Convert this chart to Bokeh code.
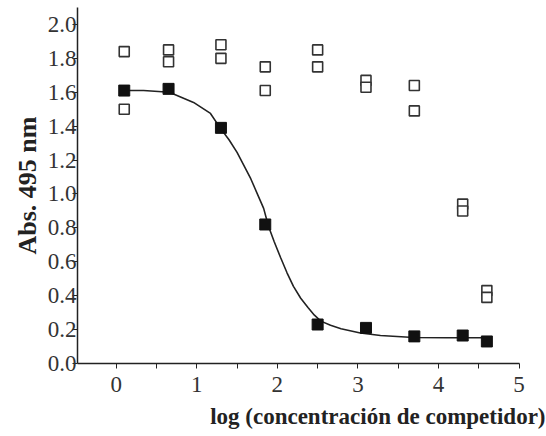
from bokeh.plotting import figure
from bokeh.models import FixedTicker, Range1d, Title, PrintfTickFormatter
from bokeh.embed import file_html
from bokeh.resources import INLINE

# Filled squares (fitted series)
x_filled = [0.1, 0.65, 1.3, 1.85, 2.5, 3.1, 3.7, 4.3, 4.6]
y_filled = [1.61, 1.62, 1.39, 0.82, 0.23, 0.21, 0.16, 0.165, 0.13]

# Open squares (two replicates per concentration)
x_open = [0.1, 0.1, 0.65, 0.65, 1.3, 1.3, 1.85, 1.85, 2.5, 2.5,
          3.1, 3.1, 3.7, 3.7, 4.3, 4.3, 4.6, 4.6]
y_open = [1.84, 1.50, 1.85, 1.78, 1.88, 1.80, 1.75, 1.61, 1.85, 1.75,
          1.67, 1.63, 1.64, 1.49, 0.94, 0.90, 0.43, 0.39]

# Fitted curve
x_curve = [0.10, 0.34, 0.66, 0.96, 1.17, 1.29, 1.40, 1.50, 1.67, 1.83, 1.89,
           1.96, 2.04, 2.12, 2.20, 2.29, 2.38, 2.46, 2.54, 2.66, 2.79, 3.03,
           3.28, 3.69, 4.10, 4.61]
y_curve = [1.61, 1.61, 1.60, 1.54, 1.475, 1.39, 1.32, 1.245, 1.09, 0.915, 0.81,
           0.72, 0.625, 0.535, 0.455, 0.385, 0.33, 0.285, 0.25, 0.225, 0.205, 0.18,
           0.165, 0.153, 0.152, 0.152]

x_ticks = [0, 1, 2, 3, 4, 5]
x_minor = [0.5, 1.5, 2.5, 3.5, 4.5]
y_ticks = [0.0, 0.2, 0.4, 0.6, 0.8, 1.0, 1.2, 1.4, 1.6, 1.8, 2.0]

SERIF = "Liberation Serif"

p = figure(width=546, height=436, output_backend="svg", toolbar_location=None,
           x_range=Range1d(-0.48, 5.005), y_range=Range1d(0, 2.1),
           min_border_left=77, min_border_right=27, min_border_top=7,
           min_border_bottom=73)
p.outline_line_color = None
p.xgrid.grid_line_color = None
p.ygrid.grid_line_color = None
p.background_fill_color = "white"
p.border_fill_color = "white"

p.line(x_curve, y_curve, line_color="#222222", line_width=1.6)
p.scatter(x_open, y_open, marker="square", size=10, fill_color="white",
          line_color="#333333", line_width=1.6)
p.scatter(x_filled, y_filled, marker="square", size=11, fill_color="#111111",
          line_color="#111111")

p.axis.major_label_text_font = SERIF
p.axis.major_label_text_font_size = "23px"
p.axis.major_label_text_color = "#333333"
p.axis.axis_line_width = 1.5
p.axis.axis_line_color = "#222222"
p.axis.major_tick_line_color = "#222222"
p.axis.minor_tick_line_color = "#222222"
p.axis.major_tick_out = 5
p.axis.major_tick_in = 0

xa = p.xaxis[0]
xa.ticker = FixedTicker(ticks=x_ticks, minor_ticks=x_minor)
xa.minor_tick_out = 5
xa.minor_tick_in = 0
xa.major_label_standoff = 8

ya = p.yaxis[0]
ya.ticker = FixedTicker(ticks=y_ticks, minor_ticks=[])
ya.formatter = PrintfTickFormatter(format="%.1f")
ya.minor_tick_out = 0
ya.minor_tick_in = 0
ya.major_label_standoff = -4
ya.axis_label = "Abs. 495 nm"
ya.axis_label_text_font = SERIF
ya.axis_label_text_font_style = "bold"
ya.axis_label_text_font_size = "26px"
ya.axis_label_text_color = "#222222"
ya.axis_label_standoff = 3

t = Title(text="log (concentración de competidor)", align="right", offset=-26,
          text_font=SERIF, text_font_style="bold", text_font_size="23px",
          text_color="#222222", standoff=14)
p.add_layout(t, "below")

open("out.html", "w").write(file_html(p, INLINE))
